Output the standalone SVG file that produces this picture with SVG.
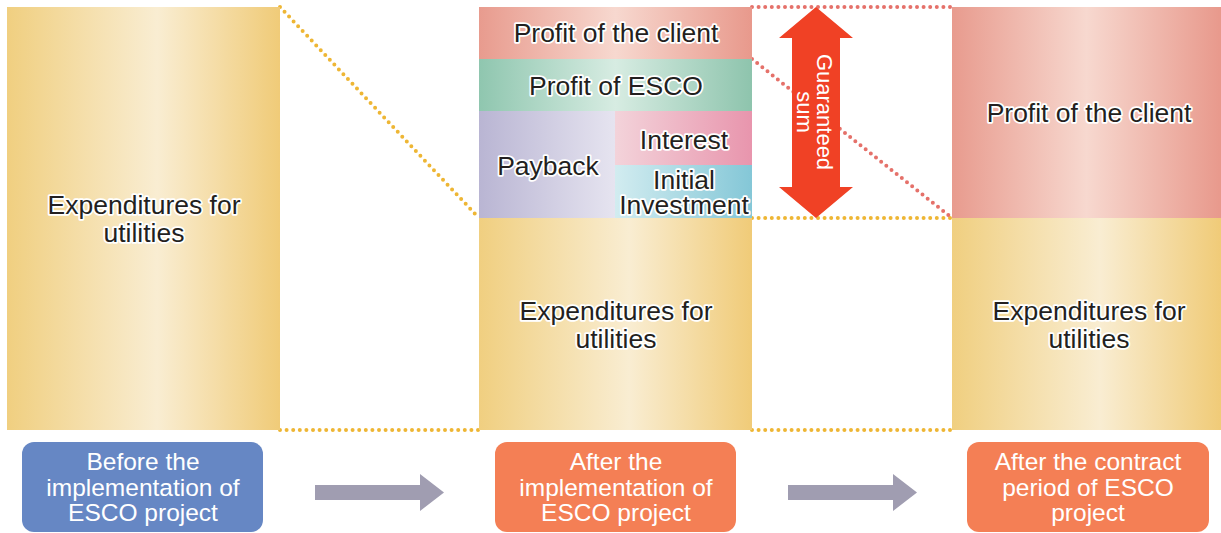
<svg xmlns="http://www.w3.org/2000/svg" width="1221" height="533" viewBox="0 0 1221 533">
<defs>
<linearGradient id="gY" x1="0" x2="1" y1="0" y2="0"><stop offset="0" stop-color="#f0cf80"/><stop offset="0.55" stop-color="#f9edd2"/><stop offset="1" stop-color="#f0cb78"/></linearGradient>
<linearGradient id="gR" x1="0" x2="1" y1="0" y2="0"><stop offset="0" stop-color="#e89b8e"/><stop offset="0.5" stop-color="#f7d8cf"/><stop offset="1" stop-color="#e8998c"/></linearGradient>
<linearGradient id="gG" x1="0" x2="1" y1="0" y2="0"><stop offset="0" stop-color="#8fc6af"/><stop offset="0.5" stop-color="#d7ece2"/><stop offset="1" stop-color="#8ec4ad"/></linearGradient>
<linearGradient id="gP" x1="0" x2="1" y1="0" y2="0"><stop offset="0" stop-color="#b9b5d3"/><stop offset="1" stop-color="#e6e4f0"/></linearGradient>
<linearGradient id="gI" x1="0" x2="1" y1="0" y2="0"><stop offset="0" stop-color="#f3d3da"/><stop offset="1" stop-color="#e895ad"/></linearGradient>
<linearGradient id="gB" x1="0" x2="1" y1="0" y2="0"><stop offset="0" stop-color="#d2ecf0"/><stop offset="1" stop-color="#84c7d7"/></linearGradient>
</defs>
<style>
.t{font-family:"Liberation Sans",Arial,sans-serif;font-size:26.5px;fill:#231f20;stroke:#fff;stroke-width:3.5;stroke-linejoin:round;paint-order:stroke;text-anchor:middle}
.w{font-family:"Liberation Sans",Arial,sans-serif;font-size:24.5px;fill:#fff;text-anchor:middle}
.g{font-family:"Liberation Sans",Arial,sans-serif;font-size:22px;fill:#fff;text-anchor:middle}
.dy{fill:none;stroke:#eeb634;stroke-width:4;stroke-linecap:round;stroke-dasharray:0 6.6}
.dr{fill:none;stroke:#e5716a;stroke-width:4;stroke-linecap:round;stroke-dasharray:0 6.6}
.ga{fill:#a09db1}
</style>
<g id="connectors">
<path class="dy" d="M280 7 L479 218"/>
<path class="dy" d="M280 430 H479"/>
<path class="dy" d="M752 430 H952"/>
<path class="dy" d="M752 218 H952"/>
<path class="dr" d="M752 7 H952"/>
<path class="dr" d="M752 59 L952 218"/>
<polygon class="ga" points="315,485 420,485 420,474 444,492.5 420,511 420,500 315,500"/>
<polygon class="ga" points="788,485 893,485 893,474 917,492.5 893,511 893,500 788,500"/>
</g>
<g id="before-bar">
<rect x="7" y="7" width="273" height="423" fill="url(#gY)"/>
<text class="t" x="144" y="214">Expenditures for</text>
<text class="t" x="144" y="242">utilities</text>
</g>
<g id="after-exp">
<rect x="479" y="218" width="273" height="212" fill="url(#gY)"/>
<text class="t" x="616" y="320">Expenditures for</text>
<text class="t" x="616" y="348">utilities</text>
</g>
<g id="after-profit-client">
<rect x="479" y="7" width="273" height="52" fill="url(#gR)"/>
<text class="t" x="616" y="42">Profit of the client</text>
</g>
<g id="after-profit-esco">
<rect x="479" y="59" width="273" height="52" fill="url(#gG)"/>
<text class="t" x="616" y="95">Profit of ESCO</text>
</g>
<g id="payback">
<rect x="479" y="111" width="136" height="107" fill="url(#gP)"/>
<text class="t" x="548" y="175">Payback</text>
</g>
<g id="interest">
<rect x="615" y="111" width="137" height="54" fill="url(#gI)"/>
<text class="t" x="684" y="149">Interest</text>
</g>
<g id="initial-investment">
<rect x="615" y="165" width="137" height="53" fill="url(#gB)"/>
<text class="t" x="684" y="189">Initial</text>
<text class="t" x="684" y="214">Investment</text>
</g>
<g id="contract-profit">
<rect x="952" y="7" width="269" height="211" fill="url(#gR)"/>
<text class="t" x="1089" y="122">Profit of the client</text>
</g>
<g id="contract-exp">
<rect x="952" y="218" width="269" height="212" fill="url(#gY)"/>
<text class="t" x="1089" y="320">Expenditures for</text>
<text class="t" x="1089" y="348">utilities</text>
</g>
<g id="guaranteed-sum">
<polygon fill="#f04125" points="816,7 853,38 840,38 840,187 853,187 816,218 779,187 792,187 792,38 779,38"/>
<g transform="translate(816,112) rotate(90)">
<text class="g" x="0" y="-1">Guaranteed</text>
<text class="g" x="0" y="19">sum</text>
</g>
</g>
<g id="label-before">
<rect x="22" y="442" width="241" height="90" rx="12" fill="#6687c4"/>
<text class="w" x="143" y="470">Before the</text>
<text class="w" x="143" y="496">implementation of</text>
<text class="w" x="143" y="521">ESCO project</text>
</g>
<g id="label-after">
<rect x="495" y="442" width="241" height="90" rx="12" fill="#f47f55"/>
<text class="w" x="616" y="470">After the</text>
<text class="w" x="616" y="496">implementation of</text>
<text class="w" x="616" y="521">ESCO project</text>
</g>
<g id="label-contract">
<rect x="967" y="442" width="242" height="90" rx="12" fill="#f47f55"/>
<text class="w" x="1088" y="470">After the contract</text>
<text class="w" x="1088" y="496">period of ESCO</text>
<text class="w" x="1088" y="521">project</text>
</g>
</svg>
